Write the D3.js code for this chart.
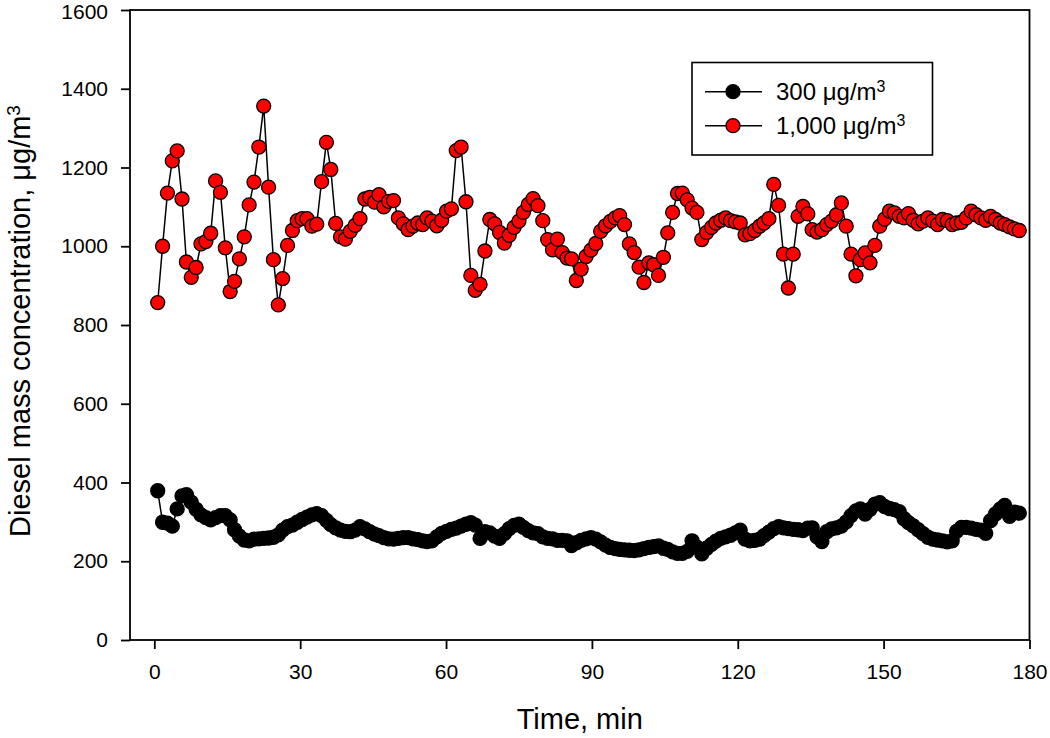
<!DOCTYPE html>
<html>
<head>
<meta charset="utf-8">
<script src="https://cdn.jsdelivr.net/npm/d3@7"></script>
<style>
  html, body { margin: 0; padding: 0; background: #fff; }
  svg { display: block; font-family: Arial, "Liberation Sans", Helvetica, sans-serif; }
</style>
</head>
<body>
<svg id="chart" width="1050" height="738"></svg>
<script>
// ---- data ----
const minutes = [
  0.7,1.7,2.7,3.7,4.7,5.7,6.6,7.6,8.6,9.6,
  10.6,11.6,12.6,13.6,14.6,15.6,16.5,17.5,18.5,19.5,
  20.5,21.5,22.5,23.5,24.5,25.5,26.4,27.4,28.4,29.4,
  30.4,31.4,32.4,33.4,34.4,35.4,36.3,37.3,38.3,39.3,
  40.3,41.3,42.3,43.3,44.3,45.3,46.2,47.2,48.2,49.2,
  50.2,51.2,52.2,53.2,54.2,55.2,56.1,57.1,58.1,59.1,
  60.1,61.1,62.1,63.1,64.1,65.1,66.0,67.0,68.0,69.0,
  70.0,71.0,72.0,73.0,74.0,75.0,75.9,76.9,77.9,78.9,
  79.9,80.9,81.9,82.9,83.9,84.9,85.8,86.8,87.8,88.8,
  89.8,90.8,91.8,92.8,93.8,94.8,95.7,96.7,97.7,98.7,
  99.7,100.7,101.7,102.7,103.7,104.7,105.6,106.6,107.6,108.6,
  109.6,110.6,111.6,112.6,113.6,114.6,115.5,116.5,117.5,118.5,
  119.5,120.5,121.5,122.5,123.5,124.5,125.4,126.4,127.4,128.4,
  129.4,130.4,131.4,132.4,133.4,134.4,135.3,136.3,137.3,138.3,
  139.3,140.3,141.3,142.3,143.3,144.3,145.2,146.2,147.2,148.2,
  149.2,150.2,151.2,152.2,153.2,154.2,155.1,156.1,157.1,158.1,
  159.1,160.1,161.1,162.1,163.1,164.1,165.0,166.0,167.0,168.0,
  169.0,170.0,171.0,172.0,173.0,174.0,174.9,175.9,176.9,177.9
];

const conc300 = [
  379,299,297,289,333,366,369,350,332,318,
  311,305,311,316,316,305,280,264,254,252,
  256,257,258,259,261,267,279,288,292,299,
  306,312,318,321,316,304,293,285,279,276,
  275,279,288,282,275,269,265,260,257,256,
  258,260,260,257,255,252,250,252,262,271,
  276,281,284,289,294,298,292,258,275,272,
  264,258,270,283,291,294,286,278,272,270,
  262,258,257,253,253,252,240,247,253,257,
  260,256,249,241,235,232,230,229,228,227,
  229,232,235,237,239,233,230,224,220,220,
  225,252,236,219,233,243,251,258,262,266,
  272,279,256,252,253,256,265,274,283,288,
  285,283,281,280,278,284,285,262,250,275,
  282,285,289,300,316,328,333,320,332,345,
  349,339,334,331,326,308,298,290,280,270,
  261,256,254,252,249,252,276,286,286,284,
  281,279,271,303,320,333,342,314,325,322
];

const conc1000 = [
  857,1000,1135,1217,1242,1120,960,921,946,1006,
  1012,1033,1166,1137,996,885,911,968,1024,1105,
  1163,1252,1356,1150,966,851,918,1002,1040,1065,
  1070,1070,1051,1056,1164,1264,1195,1058,1024,1018,
  1038,1053,1070,1120,1124,1112,1131,1100,1114,1116,
  1072,1057,1042,1051,1059,1055,1072,1064,1052,1066,
  1089,1095,1243,1252,1113,926,888,903,988,1068,
  1057,1035,1008,1028,1048,1064,1086,1106,1121,1103,
  1065,1017,991,1018,984,970,968,913,942,974,
  990,1007,1038,1052,1063,1072,1078,1055,1006,984,
  947,908,958,953,926,972,1034,1086,1134,1135,
  1118,1097,1086,1017,1035,1048,1059,1066,1072,1065,
  1062,1059,1029,1032,1040,1051,1059,1070,1157,1104,
  980,894,980,1076,1101,1082,1042,1036,1042,1055,
  1064,1080,1110,1051,980,925,966,983,958,1002,
  1051,1069,1089,1085,1076,1072,1083,1066,1057,1064,
  1072,1064,1055,1068,1065,1055,1059,1061,1072,1089,
  1080,1072,1066,1076,1068,1059,1055,1049,1044,1040
];

const xTicks = [0, 30, 60, 90, 120, 150, 180];
const yTicks = [0, 200, 400, 600, 800, 1000, 1200, 1400, 1600];
const seriesNames = ["300", "1,000"];
const seriesColors = ["#000000", "#ff0000"];

// ---- chart ----
const svg = d3.select("#chart");
const x = d3.scaleLinear().domain([-5, 180]).range([130, 1029.5]);
const y = d3.scaleLinear().domain([0, 1600]).range([640, 10]);

const fontTick = 21;

// frame
svg.append("rect")
  .attr("x", x(-5)).attr("y", y(1600))
  .attr("width", x(180) - x(-5)).attr("height", y(0) - y(1600))
  .attr("fill", "none").attr("stroke", "#000").attr("stroke-width", 1.8);

// axes
const xAxis = svg.append("g")
  .attr("transform", `translate(0,${y(0)})`)
  .call(d3.axisBottom(x).tickValues(xTicks).tickSize(9).tickPadding(15).tickFormat(d3.format("d")));
const yAxis = svg.append("g")
  .attr("transform", `translate(${x(-5)},0)`)
  .call(d3.axisLeft(y).tickValues(yTicks).tickSize(9).tickPadding(13).tickFormat(d3.format("d")));

[xAxis, yAxis].forEach(g => {
  g.select(".domain").remove();
  g.selectAll(".tick line").attr("stroke", "#000").attr("stroke-width", 1.8);
  g.selectAll(".tick text")
    .attr("fill", "#000")
    .style("font-size", fontTick + "px")
    .style("font-family", "Arial, 'Liberation Sans', sans-serif");
});
// keep the top tick label fully inside the picture
yAxis.selectAll(".tick text").filter(d => d === 1600).attr("dy", "0.36em").attr("y", 1);

// axis titles
svg.append("text")
  .attr("x", (x(-5) + x(180)) / 2).attr("y", 729)
  .attr("text-anchor", "middle")
  .style("font-size", "29px")
  .text("Time, min");

const yTitle = svg.append("text")
  .attr("transform", `translate(30,${(y(0) + y(1600)) / 2 - 4}) rotate(-90)`)
  .attr("text-anchor", "middle")
  .style("font-size", "29px");
yTitle.append("tspan").text("Diesel mass concentration, \u03bcg/m");
yTitle.append("tspan").attr("dy", "-0.55em").style("font-size", "19px").text("3");

// series
const series = [conc300, conc1000];
const line = d3.line().x((d, i) => x(minutes[i])).y(d => y(d));

series.forEach((vals, si) => {
  const g = svg.append("g");
  g.append("path")
    .datum(vals)
    .attr("d", line)
    .attr("fill", "none")
    .attr("stroke", "#000")
    .attr("stroke-width", 1.5);
  g.selectAll("circle")
    .data(vals)
    .join("circle")
    .attr("cx", (d, i) => x(minutes[i]))
    .attr("cy", d => y(d))
    .attr("r", 7)
    .attr("fill", seriesColors[si])
    .attr("stroke", "#000")
    .attr("stroke-width", 1.3);
});

// legend
const legend = svg.append("g");
legend.append("rect")
  .attr("x", 692).attr("y", 62.5)
  .attr("width", 240.5).attr("height", 92.5)
  .attr("fill", "#fff").attr("stroke", "#000").attr("stroke-width", 1.6);

const rowsY = [91.7, 125.7];
seriesNames.forEach((name, si) => {
  const ry = rowsY[si];
  legend.append("line")
    .attr("x1", 705).attr("x2", 762).attr("y1", ry).attr("y2", ry)
    .attr("stroke", "#000").attr("stroke-width", 1.6);
  legend.append("circle")
    .attr("cx", 733).attr("cy", ry).attr("r", 7)
    .attr("fill", seriesColors[si]).attr("stroke", "#000").attr("stroke-width", 1.3);
  const t = legend.append("text")
    .attr("x", 776).attr("y", ry + 8.6)
    .style("font-size", "24px");
  t.append("tspan").text(name + " \u03bcg/m");
  t.append("tspan").attr("dy", "-0.55em").style("font-size", "16px").text("3");
});
</script>
</body>
</html>
